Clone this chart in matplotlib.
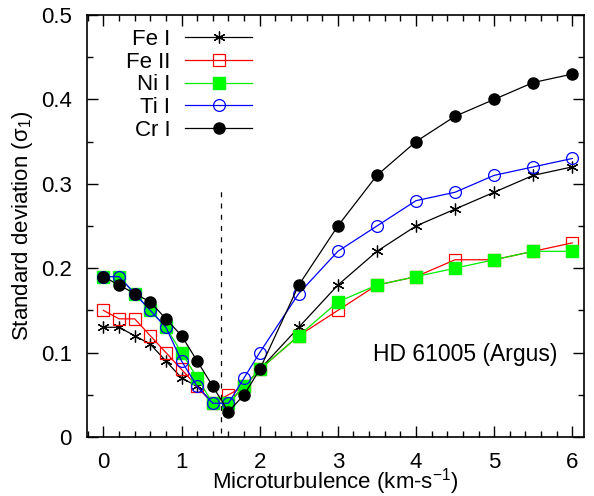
import matplotlib
matplotlib.use("Agg")
import matplotlib.pyplot as plt
from matplotlib.ticker import MultipleLocator

plt.rcParams['font.family'] = ['Liberation Sans', 'DejaVu Sans']
plt.rcParams['mathtext.fontset'] = 'custom'
plt.rcParams['mathtext.rm'] = 'Liberation Sans'
plt.rcParams['mathtext.it'] = 'Liberation Sans'
plt.rcParams['mathtext.default'] = 'regular'

# microturbulence grid (km/s)
vt = [0, 0.2, 0.4, 0.6, 0.8, 1.0, 1.2, 1.4, 1.6, 1.8, 2.0,
      2.5, 3.0, 3.5, 4.0, 4.5, 5.0, 5.5, 6.0]

fe1 = [0.13, 0.13, 0.12, 0.11, 0.09, 0.07, 0.06, 0.04, 0.04, 0.06, 0.08,
       0.13, 0.18, 0.22, 0.25, 0.27, 0.29, 0.31, 0.32]
fe2 = [0.15, 0.14, 0.14, 0.12, 0.10, 0.08, 0.06, 0.04, 0.05, 0.06, 0.08,
       0.12, 0.15, 0.18, 0.19, 0.21, 0.21, 0.22, 0.23]
ni1 = [0.19, 0.19, 0.17, 0.15, 0.13, 0.10, 0.07, 0.04, 0.04, 0.06, 0.08,
       0.12, 0.16, 0.18, 0.19, 0.20, 0.21, 0.22, 0.22]
ti1 = [0.19, 0.19, 0.17, 0.15, 0.13, 0.09, 0.06, 0.04, 0.04, 0.07, 0.10,
       0.17, 0.22, 0.25, 0.28, 0.29, 0.31, 0.32, 0.33]
cr1 = [0.19, 0.18, 0.17, 0.16, 0.14, 0.12, 0.09, 0.06, 0.03, 0.05, 0.08,
       0.18, 0.25, 0.31, 0.35, 0.38, 0.40, 0.42, 0.43]

vt_best = 1.5

fig = plt.figure(figsize=(5.94, 4.96), dpi=100)
ax = fig.add_axes([87 / 594, (496 - 437) / 496, (584 - 87) / 594, (437 - 15) / 496])

lw = 0.9
ax.plot(vt, fe1, color='black', lw=lw, marker=(6, 2, 0), ms=8.5, mew=0.9,
        label='Fe I')
ax.plot(vt, fe2, color='red', lw=lw, marker='s', ms=8, mfc='none', mew=0.9,
        label='Fe II')
ax.plot(vt, ni1, color='#00ee00', lw=lw, marker='s', ms=8, mfc='#00ff00',
        mec='#00ff00', label='Ni I')
ax.plot(vt, ti1, color='blue', lw=lw, marker='o', ms=8.5, mfc='none', mew=0.9,
        label='Ti I')
ax.plot(vt, cr1, color='black', lw=lw, marker='o', ms=8, mfc='black',
        label='Cr I')

ax.plot([vt_best, vt_best], [0.005, 0.295], color='black', lw=0.9,
        ls=(0, (4, 5)))

ax.set_xlim(-0.21, 6.15)
ax.set_ylim(0, 0.5)
ax.xaxis.set_major_locator(MultipleLocator(1))
ax.xaxis.set_minor_locator(MultipleLocator(0.2))
ax.yaxis.set_major_locator(MultipleLocator(0.1))
ax.yaxis.set_minor_locator(MultipleLocator(0.05))
ax.tick_params(which='both', direction='in', top=True, right=True,
               labelsize=16, width=1)
ax.tick_params(which='major', length=8)
ax.tick_params(which='minor', length=4)
ax.tick_params(axis='x', which='major', pad=11)
ax.tick_params(axis='y', which='major', pad=11)
ax.set_yticks([0, 0.1, 0.2, 0.3, 0.4, 0.5])
ax.set_yticklabels(['0', '0.1', '0.2', '0.3', '0.4', '0.5'])
for s in ax.spines.values():
    s.set_linewidth(1.2)

ax.set_xlabel('Microturbulence (km-s$^{-1}$)', fontsize=16, labelpad=-5)
ax.set_ylabel(r'Standard deviation ($\sigma_1$)', fontsize=16, labelpad=4)

ax.text(5.81, 0.098, 'HD 61005 (Argus)', fontsize=16.5, ha='right',
        va='center')

leg = ax.legend(loc='upper left', bbox_to_anchor=(0.078, 0.967),
                frameon=False, fontsize=16, markerfirst=False,
                handlelength=3.0, handletextpad=0.68, labelspacing=0.08,
                borderaxespad=0.0, borderpad=0.0, numpoints=1)
for t in leg.get_texts():
    t.set_ha('right')
leg._legend_box.align = 'right'

fig.savefig('out.png', dpi=100)
